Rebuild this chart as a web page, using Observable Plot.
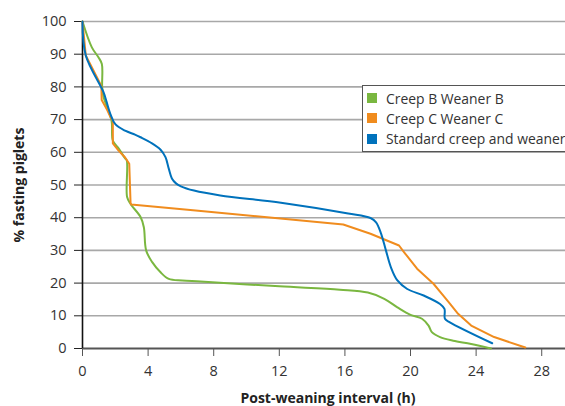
<!DOCTYPE html>
<html><head><meta charset="utf-8">
<script src="https://cdn.jsdelivr.net/npm/d3@7"></script>
<script src="https://cdn.jsdelivr.net/npm/@observablehq/plot@0.6"></script>
<style>
html,body{margin:0;padding:0;background:#fff;overflow:hidden;width:565px;height:406px}
#wrap{position:relative;width:565px;height:406px;overflow:hidden;font-family:"Open Sans",sans-serif}
#legend{position:absolute;left:362px;top:85px;width:240px;height:67px;border:1.5px solid #555;background:#fff;box-sizing:border-box}
#legend .item{position:absolute;left:4px;height:20px;display:flex;align-items:center;font-size:13.9px;color:#333;white-space:nowrap}
#legend .sw{width:10px;height:10px;margin-right:9px;flex:none}
</style></head>
<body><div id="wrap"></div>
<script>
// Categories / series
const seriesNames = ["Creep B Weaner B", "Creep C Weaner C", "Standard creep and weaner"];
const seriesColors = ["#7ab740", "#f08c1e", "#0072bc"];

// Creep B Weaner B (green)
const greenX = [0, 0.57, 0.98, 1.18, 1.2, 1.28, 1.77, 1.85, 2.2, 2.6, 2.7, 2.72, 2.93, 3.54, 3.74, 3.88, 4.25, 4.76, 5.26, 6.08, 7.2, 12, 15.7, 17.4, 18.4, 19.2, 20.0, 20.7, 21.1, 21.3, 21.8, 22.6, 23.7, 24.9];
const greenY = [100, 92.1, 89, 87, 80, 77, 69.7, 63.6, 61.2, 58.1, 57.5, 46.3, 44.2, 40.2, 37.1, 30, 26.4, 23.3, 21.3, 20.8, 20.5, 19.0, 18.0, 17.1, 15.2, 12.6, 10.3, 9.1, 7.0, 5.0, 3.5, 2.4, 1.4, 0];

// Creep C Weaner C (orange)
const orangeX = [0, 0.2, 1.15, 1.17, 1.5, 1.75, 1.85, 1.85, 2.2, 2.6, 2.85, 2.93, 2.97, 6.9, 15.9, 17.56, 19.3, 19.6, 20.4, 21.4, 22.0, 22.4, 22.9, 23.7, 25.1, 27.0];
const orangeY = [100, 89.6, 80.3, 76, 73, 70.3, 69.7, 62.7, 60.5, 58.4, 56.5, 44.5, 44.0, 42.2, 37.9, 35.1, 31.5, 29.5, 24.4, 19.8, 16.2, 13.7, 10.6, 7.0, 3.5, 0.3];

// Standard creep and weaner (blue)
const blueX = [0, 0.2, 1.28, 1.46, 1.7, 2.0, 2.6, 3.2, 3.54, 4.15, 4.76, 5.06, 5.26, 5.45, 5.7, 6.0, 6.8, 8.4, 12.1, 16.2, 17.56, 17.9, 18.2, 18.5, 18.8, 19.2, 19.8, 20.8, 21.8, 22.07, 22.1, 22.4, 24.98];
const blueY = [100, 89.6, 78.4, 75.6, 71.7, 68.6, 66.6, 65.4, 64.6, 63.0, 60.8, 58.5, 55.0, 52.0, 50.5, 49.6, 48.3, 46.8, 44.6, 41.3, 39.9, 38.6, 35.2, 30, 24.9, 20.8, 18.2, 16.2, 13.6, 12.1, 9.1, 8.0, 1.6];

// Tick labels
const xTicks = [0, 4, 8, 12, 16, 20, 24, 28];
const yTicks = [0, 10, 20, 30, 40, 50, 60, 70, 80, 90, 100];
const xLabel = "Post-weaning interval (h)";
const yLabel = "% fasting piglets";

const toPts = (xs, ys) => xs.map((x, i) => ({x, y: ys[i]}));
const green = toPts(greenX, greenY);
const orange = toPts(orangeX, orangeY);
const blue = toPts(blueX, blueY);

const font = '"Open Sans", sans-serif';
const chart = Plot.plot({
  width: 565, height: 406,
  marginLeft: 82, marginRight: 0, marginTop: 21, marginBottom: 58,
  x: {domain: [0, 29.45]},
  y: {domain: [0, 100]},
  style: {fontFamily: font, fontSize: "14px", color: "#333", background: "white"},
  marks: [
    Plot.ruleY(yTicks.filter(d => d > 0), {stroke: "#a8a8a8", strokeWidth: 1.6}),
    Plot.ruleY([0], {stroke: "#555", strokeWidth: 2}),
    Plot.axisY(yTicks, {tickSize: 8, tickPadding: 8, stroke: "#222", label: null, fontSize: 14.5}),
    Plot.axisX(xTicks, {tickSize: 8, tickPadding: 9, stroke: "#555", label: null, fontSize: 14.5}),
    Plot.ruleX([0], {stroke: "#111", strokeWidth: 1.6}),
    Plot.line(green, {x: "x", y: "y", stroke: seriesColors[0], strokeWidth: 2, curve: "catmull-rom"}),
    Plot.line(orange, {x: "x", y: "y", stroke: seriesColors[1], strokeWidth: 2, curve: "linear"}),
    Plot.line(blue, {x: "x", y: "y", stroke: seriesColors[2], strokeWidth: 2, curve: "catmull-rom"}),
    Plot.text([yLabel], {frameAnchor: "left", textAnchor: "middle", lineAnchor: "middle", rotate: -90, dx: -63, fontWeight: "bold", fontSize: 14, fill: "#222"}),
    Plot.text([xLabel], {frameAnchor: "bottom", textAnchor: "middle", lineAnchor: "middle", dy: 50, dx: 4, fontWeight: "bold", fontSize: 14, fill: "#222"})
  ]
});
const wrap = document.getElementById("wrap");
wrap.appendChild(chart);

const legend = document.createElement("div");
legend.id = "legend";
seriesNames.forEach((name, i) => {
  const item = document.createElement("div");
  item.className = "item";
  item.style.top = (2 + i * 20.3) + "px";
  const sw = document.createElement("span");
  sw.className = "sw";
  sw.style.background = seriesColors[i];
  const t = document.createElement("span");
  t.textContent = name;
  item.appendChild(sw); item.appendChild(t);
  legend.appendChild(item);
});
wrap.appendChild(legend);
</script>
</body></html>
